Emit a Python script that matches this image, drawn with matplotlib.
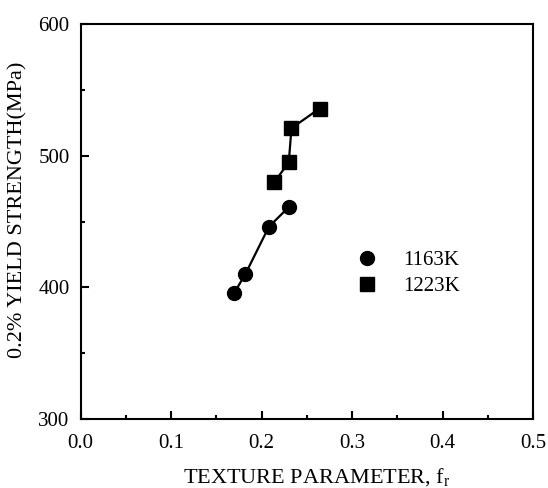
import matplotlib
matplotlib.use('Agg')
import matplotlib.pyplot as plt
from matplotlib.ticker import MultipleLocator

plt.rcParams['font.family'] = 'Liberation Serif'
plt.rcParams['mathtext.fontset'] = 'stix'

# texture parameter fr vs 0.2% yield strength
fr_1163 = [0.170, 0.182, 0.208, 0.230]
ys_1163 = [396, 410, 446, 461]
fr_1223 = [0.214, 0.230, 0.233, 0.264]
ys_1223 = [480, 495, 521, 536]

fig = plt.figure(figsize=(5.48, 4.88), dpi=100)
ax = fig.add_axes([0.1473, 0.142, 0.8253, 0.808])

ax.plot(fr_1163, ys_1163, 'k-', marker='o', markersize=10, linewidth=1.6,
        label='1163K')
ax.plot(fr_1223, ys_1223, 'k-', marker='s', markersize=10, linewidth=1.6,
        label='1223K')

ax.set_xlim(0, 0.5)
ax.set_ylim(300, 600)
ax.xaxis.set_major_locator(MultipleLocator(0.1))
ax.xaxis.set_minor_locator(MultipleLocator(0.05))
ax.yaxis.set_major_locator(MultipleLocator(100))
ax.yaxis.set_minor_locator(MultipleLocator(50))
ax.xaxis.set_major_formatter(plt.FormatStrFormatter('%.1f'))

ax.tick_params(which='both', direction='in', top=False, right=False,
               labelsize=15, width=1.5)
ax.tick_params(which='major', length=6)
ax.tick_params(axis='x', which='major', pad=11)
ax.tick_params(axis='y', which='major', pad=8)
ax.tick_params(which='minor', length=3)
for s in ax.spines.values():
    s.set_linewidth(1.5)

ax.set_xlabel(r'TEXTURE PARAMETER, f$_\mathregular{r}$', fontsize=16)
ax.xaxis.set_label_coords(0.522, -0.163)
ax.xaxis.label.set_verticalalignment('baseline')
ax.set_ylabel('0.2% YIELD STRENGTH(MPa)', fontsize=16)
ax.yaxis.set_label_coords(-0.117, 0.529)

# legend without line segments
h1 = plt.Line2D([], [], color='k', marker='o', linestyle='none', markersize=10)
h2 = plt.Line2D([], [], color='k', marker='s', linestyle='none', markersize=10)
ax.legend([h1, h2], ['1163K', '1223K'], loc='upper left',
          bbox_to_anchor=(0.577, 0.463), frameon=False, fontsize=15,
          handletextpad=1.25, labelspacing=0.3, handlelength=1.0,
          borderpad=0.2)

fig.savefig('out.png', dpi=100)
